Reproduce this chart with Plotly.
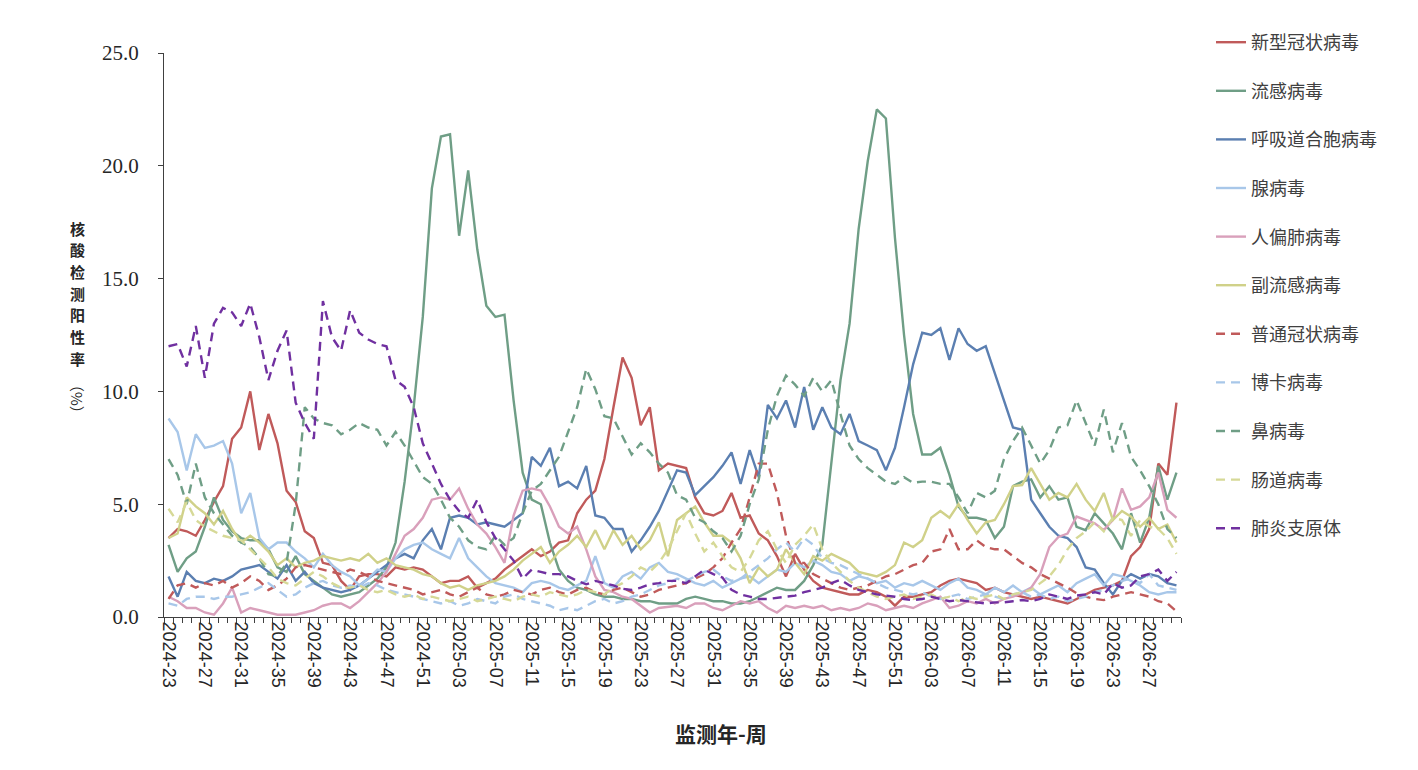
"""Weekly nucleic-acid positive rate of respiratory pathogens, Plotly line chart."""

import plotly.graph_objects as go

# Week categories: 2024-23 .. 2026-30
WEEKS = (
    [f"2024-{w:02d}" for w in range(23, 53)]
    + [f"2025-{w:02d}" for w in range(1, 53)]
    + [f"2026-{w:02d}" for w in range(1, 31)]
)

# Positive rate (%) per pathogen, one value per week
COVID = [
    3.5, 3.9, 3.8, 3.6, 4.3, 5.1, 5.8, 7.9, 8.4, 10.0,
    7.4, 9.0, 7.7, 5.6, 5.1, 3.8, 3.5, 2.4, 2.3, 1.6,
    1.2, 1.8, 1.9, 1.9, 1.8, 2.2, 2.1, 2.2, 2.1, 1.8,
    1.5, 1.6, 1.6, 1.8, 1.3, 1.5, 1.7, 2.1, 2.4, 2.7,
    3.0, 2.7, 2.9, 3.3, 3.4, 4.6, 5.2, 5.6, 7.0, 9.3,
    11.5, 10.6, 8.5, 9.3, 6.5, 6.8, 6.7, 6.6, 5.3, 4.6,
    4.5, 4.7, 5.5, 4.4, 4.5, 3.7, 3.4, 2.7, 1.8, 2.8,
    2.1, 1.6, 1.3, 1.2, 1.1, 1.0, 1.0, 1.2, 1.1, 0.9,
    0.5, 0.9, 0.9, 1.0, 1.1, 1.4, 1.6, 1.7, 1.6, 1.5,
    1.2, 1.3, 1.1, 1.0, 0.9, 0.8, 0.9, 0.8, 0.7, 0.6,
    0.8, 1.0, 1.2, 1.3, 1.4, 1.6, 2.7, 3.1, 3.9, 6.8,
    6.3, 9.5,
]
FLU = [
    3.2, 2.0, 2.6, 2.9, 4.0, 5.3, 4.3, 3.8, 3.5, 3.4,
    3.4, 3.0, 2.2, 2.0, 2.7, 1.9, 1.6, 1.3, 1.0, 0.9,
    1.0, 1.1, 1.4, 1.7, 2.2, 3.3, 6.0, 9.3, 13.3, 19.0,
    21.3, 21.4, 16.9, 19.8, 16.3, 13.8, 13.3, 13.4, 9.6, 6.4,
    5.2, 5.0, 3.3, 2.1, 1.6, 1.3, 1.2, 1.0, 0.9, 0.9,
    0.8, 0.8, 0.7, 0.7, 0.6, 0.6, 0.6, 0.8, 0.9, 0.8,
    0.7, 0.7, 0.6, 0.6, 0.7, 0.9, 1.1, 1.3, 1.2, 1.2,
    1.6, 2.3, 3.2, 7.0, 10.5, 13.0, 17.2, 20.2, 22.5, 22.1,
    16.8, 12.5, 9.0, 7.2, 7.2, 7.5, 6.3, 4.9, 4.4, 4.4,
    4.3, 3.5, 4.0, 5.8, 6.0, 6.1, 5.3, 5.8, 5.2, 5.3,
    4.0, 3.85, 4.6, 4.15, 3.7, 3.0, 4.6, 3.3, 4.4, 6.7,
    5.2, 6.4,
]
RSV = [
    1.8, 0.9, 2.0, 1.6, 1.5, 1.7, 1.6, 1.8, 2.1, 2.2,
    2.3, 2.0, 1.7, 2.3, 1.6, 2.0, 1.5, 1.3, 1.2, 1.1,
    1.2, 1.4, 1.7, 2.0, 2.3, 2.6, 2.8, 2.6, 3.4, 3.9,
    3.0, 4.4, 4.5, 4.4, 4.1, 4.2, 4.1, 4.0, 4.3, 4.6,
    7.1, 6.7, 7.5, 5.8, 6.0, 5.7, 6.7, 4.5, 4.4, 3.9,
    3.9, 2.9, 3.4, 4.0, 4.7, 5.6, 6.5, 6.4, 5.4, 5.8,
    6.2, 6.7, 7.3, 5.9, 7.4, 6.2, 9.4, 8.8, 9.6, 8.4,
    10.2, 8.3, 9.3, 8.4, 8.1, 9.0, 7.8, 7.6, 7.4, 6.5,
    7.5, 9.3, 11.2, 12.6, 12.5, 12.8, 11.4, 12.8, 12.1, 11.8,
    12.0, 10.8, 9.6, 8.4, 8.3, 5.2, 4.6, 4.0, 3.6, 3.5,
    3.1, 2.2, 2.1, 1.5, 1.0, 1.6, 1.9, 1.7, 1.9, 1.8,
    1.5, 1.4,
]
ADENO = [
    8.8, 8.2, 6.5, 8.1, 7.5, 7.6, 7.8, 6.8, 4.6, 5.5,
    3.5, 3.0, 3.3, 3.3, 2.9, 2.6, 2.2, 2.8, 2.3, 2.0,
    1.8, 1.4, 1.7, 2.1, 2.0, 2.6, 3.0, 3.2, 3.3, 3.0,
    2.8, 2.6, 3.5, 2.6, 2.2, 1.8, 1.5, 1.4, 1.3, 1.1,
    1.5, 1.6, 1.5, 1.3, 1.2, 1.4, 1.6, 2.7, 1.5, 1.3,
    1.8, 2.0, 1.7, 2.2, 2.4, 2.0, 1.9, 1.7, 1.5, 1.4,
    1.6, 1.3, 1.5, 1.7, 1.8, 1.5, 1.8, 2.1, 2.0, 2.4,
    2.2, 2.5, 2.3, 2.0, 1.9, 1.6, 1.8, 1.7, 1.5, 1.6,
    1.3, 1.5, 1.4, 1.6, 1.4, 1.2, 1.5, 1.7, 1.3, 1.2,
    1.0, 1.3, 1.1, 1.4, 1.1, 1.3, 1.0, 1.2, 1.4, 1.1,
    1.5, 1.7, 1.9, 1.4, 1.9, 1.8, 1.6, 1.4, 1.1, 1.0,
    1.1, 1.1,
]
HMPV = [
    0.9, 0.7, 0.4, 0.4, 0.2, 0.1, 0.6, 1.3, 0.2, 0.4,
    0.3, 0.2, 0.1, 0.1, 0.1, 0.2, 0.3, 0.5, 0.6, 0.6,
    0.4, 0.7, 1.1, 1.5, 2.0, 2.8, 3.6, 3.9, 4.4, 5.2,
    5.3, 5.2, 5.7, 4.8, 4.1, 3.7, 3.1, 2.4, 4.5, 5.6,
    5.7, 5.6, 4.9, 4.0, 3.7, 4.0, 3.0, 1.8, 1.2, 1.1,
    0.9, 0.8, 0.5, 0.2, 0.4, 0.45, 0.5, 0.4, 0.6, 0.6,
    0.4, 0.3, 0.5, 0.7, 0.6, 0.7, 0.4, 0.2, 0.5, 0.4,
    0.5, 0.4, 0.5, 0.3, 0.4, 0.3, 0.4, 0.6, 0.5, 0.3,
    0.4, 0.5, 0.4, 0.6, 0.75, 0.9, 0.4, 0.5, 0.7, 0.6,
    0.8, 0.6, 0.8, 0.9, 1.05, 1.3, 1.9, 3.1, 3.55, 3.7,
    4.45, 4.3, 4.15, 3.85, 4.3, 5.7, 4.75, 4.9, 5.3, 6.4,
    4.75, 4.4,
]
PARA = [
    3.5, 3.7, 5.3, 4.9, 4.6, 4.1, 4.7, 3.9, 3.3, 3.6,
    3.3, 2.9, 2.3, 2.6, 2.2, 2.4, 2.5, 2.7, 2.6, 2.5,
    2.6, 2.5, 2.8, 2.4, 2.6, 2.3, 2.2, 2.1, 1.9, 1.8,
    1.5, 1.3, 1.4, 1.2, 1.4, 1.5, 1.6, 1.8, 2.1, 2.5,
    2.8, 3.1, 2.4, 2.9, 3.2, 3.6, 3.1, 3.85, 3.0, 3.85,
    3.2, 3.6, 3.0, 3.4, 4.2, 2.7, 4.3, 4.6, 4.9, 4.2,
    3.6, 3.6, 3.3, 2.6, 1.5, 2.2, 1.8, 2.1, 3.0, 2.4,
    1.9, 2.7, 2.5, 2.8, 2.6, 2.4, 2.0, 1.9, 1.8, 2.0,
    2.3, 3.3, 3.1, 3.4, 4.4, 4.7, 4.4, 5.0, 4.3, 3.7,
    4.2, 4.3, 5.0, 5.8, 5.85, 6.6, 5.9, 5.2, 5.5, 5.3,
    5.9, 5.2, 4.7, 5.5, 4.3, 4.7, 4.45, 4.0, 4.4, 3.9,
    4.1, 3.3,
]
HCOV = [
    0.8, 1.4, 1.5, 1.3, 1.5, 1.4, 1.6, 1.3, 1.5, 1.8,
    1.6, 1.2, 1.4, 1.7, 2.2, 2.3, 2.2, 2.1, 2.0, 1.9,
    2.1, 2.0, 1.8, 1.6, 1.5, 1.4, 1.3, 1.2, 1.0, 1.1,
    1.2, 1.0, 0.9, 1.1, 1.3, 1.0, 0.9, 1.0, 1.2, 1.1,
    1.0, 1.2, 1.3, 1.1, 1.0, 1.2, 1.3, 1.1, 1.0, 1.2,
    1.3, 1.1, 0.9, 1.0, 1.2, 1.3, 1.4, 1.5, 1.7, 1.9,
    2.2, 2.6, 3.3, 3.9, 5.3, 6.8, 6.8, 5.5, 3.6, 2.4,
    2.4, 1.9, 1.7, 1.5, 1.3, 1.2, 1.3, 1.4, 1.6, 1.8,
    1.9, 2.1, 2.3, 2.4, 2.9, 3.0, 3.9, 3.0, 3.0, 3.4,
    3.1, 3.0, 3.0, 2.7, 2.4, 2.2, 1.9, 1.7, 1.5, 1.3,
    1.05, 0.9, 0.8, 0.75, 0.9, 1.0, 1.1, 1.0, 0.9, 0.7,
    0.6, 0.25,
]
BOCA = [
    0.6, 0.5, 0.8, 0.9, 0.9, 0.8, 0.9, 0.9, 1.0, 1.1,
    1.3, 1.5, 1.2, 0.9, 1.0, 1.3, 1.5, 1.6, 1.4, 1.3,
    1.4, 1.3, 1.5, 1.4, 1.2, 1.1, 1.0, 0.9, 0.8, 0.7,
    0.6, 0.7, 0.5, 0.6, 0.8, 0.7, 0.6, 0.9, 1.0, 0.8,
    0.7, 0.6, 0.5, 0.3, 0.4, 0.3, 0.5, 0.7, 0.8, 0.6,
    0.7, 0.9, 1.0, 1.2, 1.4, 1.5, 1.7, 1.6, 1.8, 2.0,
    2.1, 1.8, 1.6, 1.7, 2.0, 2.3, 2.6, 3.0, 3.3, 2.9,
    3.5, 3.2, 2.6, 2.4, 2.3, 2.1, 1.9, 1.7, 1.5, 1.3,
    1.2, 1.1, 1.0, 1.1, 0.9, 0.8, 0.9, 1.0, 0.8, 0.9,
    1.0, 0.9, 0.8, 1.0, 1.1, 0.9, 1.0, 0.8, 0.9, 0.7,
    0.8, 0.9, 1.1, 1.2, 1.4, 1.6, 1.7, 1.5, 1.9, 1.4,
    1.3, 1.2,
]
RHINO = [
    7.0, 6.3, 5.0, 6.8, 5.3, 4.6, 4.1, 3.6, 3.3, 3.1,
    2.6, 1.9, 1.8, 2.4, 5.0, 9.3, 8.8, 8.6, 8.5, 8.1,
    8.3, 8.6, 8.4, 8.3, 7.6, 8.2, 7.6, 6.9, 6.2, 5.9,
    5.2, 4.4, 4.0, 3.4, 3.1, 3.0, 3.6, 3.2, 3.5, 4.6,
    5.6, 5.9, 6.5, 7.1, 8.2, 9.3, 11.0, 10.1, 8.9, 8.8,
    8.0, 7.2, 7.7, 7.3, 6.8, 6.4, 5.4, 5.2, 4.4, 4.2,
    3.8, 3.5, 2.9, 3.6, 5.0, 6.1, 8.3, 9.8, 10.7, 10.3,
    9.8, 10.6, 10.0, 10.5, 9.0, 7.6, 7.0, 6.6, 6.3, 6.0,
    5.9, 6.2, 5.95, 6.0, 6.0, 5.9, 5.9, 5.3, 4.6, 5.5,
    5.3, 5.6, 7.0, 7.8, 8.4, 7.6, 6.8, 7.4, 8.4, 8.5,
    9.6, 8.6, 7.6, 9.2, 7.3, 8.6, 7.1, 6.5, 5.8, 5.0,
    3.9, 3.5,
]
ENTERO = [
    4.8, 4.2, 5.1, 4.3, 4.0, 3.8, 3.6, 3.5, 3.4, 3.0,
    2.6, 2.2, 1.7, 1.5, 1.4, 1.7, 2.0, 1.8, 1.5, 1.3,
    1.3, 1.4, 1.2, 1.1, 1.2, 1.0, 0.9, 1.0, 0.8, 0.9,
    0.8, 0.7, 0.8, 0.9, 0.7, 0.8, 0.9, 0.8, 0.7, 0.9,
    1.0, 0.9, 1.1, 1.0, 0.9, 1.0, 1.2, 1.1, 1.0, 1.3,
    1.5, 1.8, 2.2, 2.0, 2.4, 3.0, 3.8, 4.6, 3.7, 2.9,
    3.3, 2.7, 2.2, 2.0, 2.6, 3.4, 3.8, 3.0, 2.4, 3.2,
    3.6, 4.1, 3.0, 2.4, 2.0, 1.6, 1.3, 1.1, 0.9, 0.8,
    0.9, 1.0, 0.8, 0.9, 1.0, 0.8, 0.9, 0.7, 0.9, 0.8,
    0.9, 1.0, 0.8, 1.0, 1.1, 1.2, 1.5, 1.8, 2.3, 3.0,
    3.5, 3.8, 4.2, 3.8, 4.4, 4.3, 3.6, 4.3, 4.0, 3.9,
    3.5, 2.8,
]
MYCO = [
    12.0, 12.1, 11.1, 12.9, 10.6, 13.0, 13.7, 13.5, 12.9, 13.9,
    12.4, 10.5, 11.8, 12.7, 9.5, 8.6, 7.9, 14.0, 12.4, 11.8,
    13.6, 12.6, 12.3, 12.1, 12.0, 10.5, 10.2, 9.3, 7.7, 6.8,
    5.9, 5.2, 4.7, 4.4, 5.2, 4.2, 3.5, 3.0, 2.5, 1.7,
    2.1, 2.0, 1.9, 1.9, 1.8, 1.6, 1.45, 1.6, 1.5, 1.4,
    1.25, 1.2, 1.3, 1.45, 1.5, 1.6, 1.6, 1.5, 1.8, 2.1,
    1.9, 1.75, 1.2, 1.0, 0.9, 0.8, 0.8, 0.85, 0.9, 0.95,
    1.1, 1.2, 1.3, 1.5, 1.65, 1.4, 1.2, 1.1, 1.0, 0.95,
    0.9, 0.8, 0.75, 0.8, 0.9, 0.8, 0.7, 0.75, 0.7, 0.65,
    0.6, 0.65, 0.65, 0.7, 0.75, 0.7, 0.8, 1.0, 0.9, 0.8,
    0.95, 1.0, 1.1, 1.0, 1.5, 1.3, 1.4, 1.8, 1.9, 2.1,
    1.6, 2.0,
]

# (legend name, values, colour, dash)
SERIES = [
    ("新型冠状病毒", COVID, "#C05A5A", "solid"),
    ("流感病毒", FLU, "#6F9E86", "solid"),
    ("呼吸道合胞病毒", RSV, "#5B7FB1", "solid"),
    ("腺病毒", ADENO, "#A8C7E9", "solid"),
    ("人偏肺病毒", HMPV, "#D9A0BB", "solid"),
    ("副流感病毒", PARA, "#D0D189", "solid"),
    ("普通冠状病毒", HCOV, "#C05A5A", "9px,6px"),
    ("博卡病毒", BOCA, "#A8C7E9", "9px,6px"),
    ("鼻病毒", RHINO, "#6F9E86", "9px,6px"),
    ("肠道病毒", ENTERO, "#D6D997", "9px,6px"),
    ("肺炎支原体", MYCO, "#7030A0", "9px,6px"),
]

Y_TITLE = "核酸检测阳性率"

SERIF = "Liberation Serif, Times New Roman, serif"
SANS = "Liberation Sans, Arial, sans-serif"
CJK = "Noto Sans CJK SC, sans-serif"

# plot area in page pixels (the page body adds an 8px offset)
PLOT_TOP, PLOT_BOTTOM, PLOT_LEFT, PLOT_RIGHT = 53, 617, 164, 1181


def px_x(x):
    return (x - PLOT_LEFT) / (PLOT_RIGHT - PLOT_LEFT)


def px_y(y):
    return (PLOT_BOTTOM - y) / (PLOT_BOTTOM - PLOT_TOP)


def create_chart(output_path: str = "out.html") -> go.Figure:
    fig = go.Figure()
    xs = list(range(len(WEEKS)))

    for name, values, color, dash in SERIES:
        fig.add_trace(
            go.Scatter(
                x=xs,
                y=values,
                name=name,
                legendgroup=name,
                mode="lines",
                line=dict(color=color, width=2.4, dash=dash),
                customdata=WEEKS,
                hovertemplate="%{customdata}<br>" + name + ": %{y:.1f}%<extra></extra>",
            )
        )

    label_idx = list(range(0, len(WEEKS), 4))

    fig.update_layout(
        width=1410,
        height=762,
        margin=dict(l=156, r=237, t=45, b=153),
        plot_bgcolor="white",
        paper_bgcolor="white",
        font=dict(family=SERIF, size=15, color="#404040"),
        showlegend=True,
        legend=dict(
            x=px_x(1211),
            y=px_y(24),
            xanchor="left",
            yanchor="top",
            font=dict(family=CJK, size=18, color="#404040"),
            tracegroupgap=22.2,
            bgcolor="rgba(0,0,0,0)",
            maxheight=700,
        ),
        xaxis=dict(
            range=[-0.5, len(WEEKS) - 0.5],
            tickmode="array",
            tickvals=label_idx,
            ticktext=[WEEKS[i] for i in label_idx],
            tickangle=90,
            ticks="",
            tickfont=dict(family=SANS, size=18, color="#262626"),
            showgrid=False,
            zeroline=False,
            showline=True,
            linecolor="#404040",
            linewidth=1,
            minor=dict(
                tickvals=[i - 0.5 for i in range(len(WEEKS) + 1)],
                ticks="outside",
                ticklen=5,
                tickcolor="#404040",
                tickwidth=1,
                showgrid=False,
            ),
        ),
        yaxis=dict(
            range=[0, 25],
            tickmode="array",
            tickvals=[0, 5, 10, 15, 20, 25],
            tickformat=".1f",
            ticks="outside",
            ticklen=5,
            tickcolor="#404040",
            tickfont=dict(family=SERIF, size=21, color="#262626"),
            ticklabelstandoff=15,
            showgrid=False,
            zeroline=False,
            showline=True,
            linecolor="#404040",
            linewidth=1,
        ),
    )

    # Vertical y-axis title: one upright character per line
    for k, ch in enumerate(Y_TITLE):
        fig.add_annotation(
            text=ch,
            xref="paper", yref="paper",
            x=px_x(77), y=px_y(228 + 21.7 * k),
            xanchor="center", yanchor="middle",
            showarrow=False,
            borderpad=0,
            font=dict(family=CJK, size=15, color="#262626", weight="bold"),
        )
    fig.add_annotation(
        text="（%）",
        xref="paper", yref="paper",
        x=px_x(77), y=px_y(399),
        xanchor="center", yanchor="middle",
        textangle=90,
        showarrow=False,
        borderpad=0,
        font=dict(family=CJK, size=15, color="#262626"),
    )
    # X-axis title
    fig.add_annotation(
        text="监测年-周",
        xref="paper", yref="paper",
        x=px_x(721), y=px_y(733),
        xanchor="center", yanchor="middle",
        showarrow=False,
        font=dict(family=CJK, size=21, color="#262626", weight="bold"),
    )

    fig.write_html(output_path)
    return fig


if __name__ == "__main__":
    create_chart()
